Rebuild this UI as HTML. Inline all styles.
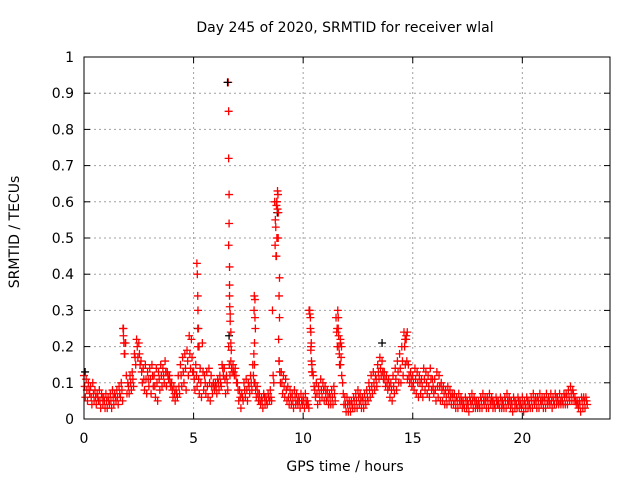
<!DOCTYPE html>
<html><head><meta charset="utf-8"><style>
body{margin:0;background:#fff;}
svg{display:block;font-family:"DejaVu Sans","Liberation Sans",sans-serif;}
</style></head><body>
<svg id="chart" width="640" height="480">
<text x="345" y="32" font-size="14" text-anchor="middle">Day 245 of 2020, SRMTID for receiver wlal</text>
<text x="345" y="471" font-size="14" text-anchor="middle">GPS time / hours</text>
<text transform="translate(19,232) rotate(-90)" font-size="14" text-anchor="middle">SRMTID / TECUs</text>
<g id="grid"></g><g id="ticks"></g><g id="marks"></g>
<rect x="84" y="57" width="526" height="362" fill="none" stroke="#000" stroke-width="1"/>
</svg>
<script>
const xTicks=[0,5,10,15,20];
const yTicks=[0,0.1,0.2,0.3,0.4,0.5,0.6,0.7,0.8,0.9,1];
const yTickLabels=["0","0.1","0.2","0.3","0.4","0.5","0.6","0.7","0.8","0.9","1"];
const baseStep=0.1;
const valsHi=[
.12,.11,.10,.09,.10,.08,.07,.08,.07,.06,
.07,.06,.07,.08,.07,.08,.09,.10,.25,.21,
.10,.12,.13,.18,.22,.21,.16,.14,.15,.13,
.14,.15,.12,.14,.13,.15,.14,.16,.13,.12,
.10,.09,.08,.12,.15,.17,.18,.19,.23,.22,
.13,.15,.20,.14,.21,.12,.13,.14,.12,.10,
.10,.11,.12,.15,.14,.12,.20,.16,.15,.14,
.10,.08,.07,.10,.11,.10,.12,.15,.10,.09,
.07,.06,.07,.06,.07,.08,.30,.60,.60,.16,
.13,.12,.11,.09,.08,.07,.08,.07,.06,.07,
.06,.07,.05,.30,.15,.09,.10,.09,.11,.10,
.09,.08,.07,.08,.09,.28,.25,.22,.10,.06,
.06,.05,.05,.06,.07,.08,.07,.06,.07,.08,
.10,.12,.13,.12,.15,.17,.16,.13,.12,.11,
.10,.12,.14,.16,.18,.20,.24,.22,.15,.13,
.12,.14,.13,.12,.11,.14,.13,.12,.14,.11,
.11,.13,.12,.10,.09,.08,.09,.08,.07,.07,
.06,.07,.06,.05,.06,.05,.06,.07,.06,.05,
.05,.06,.07,.06,.06,.07,.06,.05,.06,.05,
.06,.05,.06,.07,.06,.05,.06,.05,.06,.05,
.06,.05,.06,.05,.06,.07,.06,.06,.07,.06,
.06,.07,.06,.07,.06,.07,.06,.07,.06,.07,
.07,.08,.09,.08,.06,.05,.05,.06,.06,.06];
const valsMid=[
.09,.08,.08,.06,.07,.06,.06,.05,.06,.05,
.05,.05,.05,.06,.06,.06,.07,.08,.21,.12,
.09,.10,.11,.17,.20,.18,.13,.11,.11,.11,
.11,.12,.09,.10,.11,.12,.12,.13,.12,.10,
.08,.07,.07,.09,.12,.13,.14,.16,.18,.17,
.11,.12,.11,.10,.13,.10,.09,.10,.09,.09,
.09,.10,.10,.14,.11,.10,.15,.14,.13,.12,
.08,.06,.06,.08,.08,.09,.10,.12,.08,.07,
.05,.05,.06,.05,.06,.06,.12,.55,.58,.13,
.10,.09,.08,.06,.06,.05,.06,.05,.05,.05,
.05,.05,.04,.25,.13,.08,.07,.07,.08,.08,
.07,.06,.06,.06,.07,.24,.20,.17,.07,.04,
.04,.04,.04,.05,.05,.06,.05,.05,.05,.06,
.08,.09,.10,.11,.13,.14,.13,.11,.10,.09,
.08,.09,.11,.13,.14,.16,.20,.16,.12,.11,
.10,.11,.10,.10,.09,.11,.10,.09,.11,.09,
.08,.09,.09,.08,.07,.06,.07,.06,.06,.05,
.05,.05,.05,.04,.05,.04,.05,.05,.05,.04,
.04,.05,.05,.05,.05,.05,.05,.04,.05,.04,
.05,.04,.05,.05,.05,.04,.05,.04,.05,.04,
.04,.04,.05,.04,.05,.05,.05,.05,.05,.05,
.05,.05,.05,.05,.05,.06,.05,.05,.05,.06,
.06,.06,.07,.07,.05,.04,.04,.05,.05,.05];
const valsLo=[
.06,.05,.07,.04,.05,.04,.05,.03,.04,.03,
.03,.04,.03,.04,.05,.04,.06,.05,.18,.07,
.07,.08,.09,.15,.17,.15,.10,.08,.07,.09,
.07,.09,.06,.05,.08,.09,.10,.09,.11,.09,
.06,.05,.06,.07,.09,.10,.08,.12,.14,.13,
.08,.09,.07,.06,.08,.07,.06,.05,.07,.08,
.07,.08,.09,.12,.07,.08,.12,.13,.12,.10,
.05,.03,.05,.06,.05,.07,.08,.10,.06,.05,
.04,.03,.04,.04,.05,.05,.10,.45,.50,.10,
.07,.06,.05,.04,.04,.03,.04,.04,.03,.04,
.03,.04,.03,.20,.12,.06,.04,.05,.06,.05,
.05,.04,.04,.04,.05,.20,.15,.12,.04,.02,
.02,.02,.03,.03,.03,.04,.03,.03,.04,.05,
.06,.07,.08,.09,.11,.12,.11,.09,.08,.06,
.05,.07,.08,.10,.10,.12,.15,.11,.10,.09,
.08,.07,.06,.07,.06,.08,.07,.06,.08,.07,
.05,.06,.05,.05,.04,.04,.05,.04,.04,.03,
.03,.04,.03,.03,.03,.02,.04,.03,.03,.03,
.03,.03,.04,.03,.03,.04,.03,.03,.04,.03,
.03,.03,.03,.04,.03,.02,.03,.03,.03,.03,
.02,.03,.03,.03,.03,.04,.03,.03,.04,.03,
.03,.04,.04,.03,.04,.04,.04,.04,.04,.04,
.04,.05,.05,.05,.04,.03,.02,.03,.03,.04];
const spikeT=[1.78,1.8,1.82,1.84,
5.15,5.17,5.19,5.2,5.22,5.25,
6.58,6.6,6.6,6.62,6.62,6.6,6.64,6.64,6.64,6.65,6.67,6.67,6.7,6.7,6.72,
7.77,7.8,7.76,7.8,7.82,7.78,7.75,7.78,
8.83,8.85,8.8,8.78,8.87,8.75,8.8,8.72,8.78,8.92,8.9,8.92,8.88,8.9,
10.27,10.3,10.33,10.35,10.37,10.35,10.38,10.4,
11.58,11.6,11.55,11.62,11.7,11.75,11.65,11.7,
14.75,14.7,14.65];
const spikeV=[.25,.23,.21,.18,
.43,.40,.34,.30,.25,.20,
.93,.85,.72,.62,.54,.48,.42,.37,.34,.31,.29,.27,.24,.21,.19,
.34,.33,.30,.28,.25,.21,.18,.15,
.63,.62,.60,.59,.57,.53,.50,.48,.45,.39,.34,.28,.22,.16,
.30,.29,.28,.24,.21,.19,.16,.13,
.30,.28,.25,.23,.21,.20,.18,.15,
.24,.23,.22];
const blackT=[0.05,5.2,6.62,8.82,13.6];
const blackV=[0.13,0.25,0.23,0.57,0.21];

const X0=84,X1=610,Y0=419,Y1=57,XMAX=24;
const xs=v=>X0+(v/XMAX)*(X1-X0);
const ys=v=>Y0-v*(Y0-Y1);
const NS="http://www.w3.org/2000/svg";
function mk(tag,attrs,parent){const e=document.createElementNS(NS,tag);for(const k in attrs)e.setAttribute(k,attrs[k]);parent.appendChild(e);return e;}
const grid=document.getElementById('grid'),ticks=document.getElementById('ticks'),marks=document.getElementById('marks');
yTicks.forEach((v,i)=>{
  const y=ys(v);
  if(i>0&&i<yTicks.length-1){const g=mk('line',{x1:X0,x2:X1,y1:y,y2:y,stroke:'#a0a0a0','stroke-dasharray':'2,3'},grid);
  
  }
  mk('line',{x1:X0,x2:X0+6,y1:y,y2:y,stroke:'#000'},ticks);
  mk('line',{x1:X1,x2:X1-6,y1:y,y2:y,stroke:'#000'},ticks);
  const t=mk('text',{x:X0-10,y:y+5,'font-size':14,'text-anchor':'end'},ticks);t.textContent=yTickLabels[i];
  
  
});
xTicks.forEach(v=>{
  const x=xs(v);
  if(v>0){const g=mk('line',{x1:x,x2:x,y1:Y0,y2:Y1,stroke:'#a0a0a0','stroke-dasharray':'2,3'},grid);
  
  }
  mk('line',{x1:x,x2:x,y1:Y0,y2:Y0-6,stroke:'#000'},ticks);
  mk('line',{x1:x,x2:x,y1:Y1,y2:Y1+6,stroke:'#000'},ticks);
  const t=mk('text',{x:x,y:Y0+24,'font-size':14,'text-anchor':'middle'},ticks);t.textContent=String(v);
  
  
});
function plus(t,v,color,name){
  const x=xs(t),y=ys(v);
  const p=mk('path',{d:`M${x-4},${y}H${x+4}M${x},${y-4}V${y+4}`,stroke:color,'stroke-width':1.3,fill:'none'},marks);
  
  
}
blackT.forEach((t,i)=>plus(t,blackV[i],'#000','black-point'));
valsHi.forEach((v,i)=>plus(i*baseStep,v,'#ff0000','srmtid-point'));
valsMid.forEach((v,i)=>plus(i*baseStep+0.03,v,'#ff0000','srmtid-point'));
valsLo.forEach((v,i)=>plus(i*baseStep+0.06,v,'#ff0000','srmtid-point'));
spikeT.forEach((t,i)=>plus(t,spikeV[i],'#ff0000','srmtid-spike-point'));
plus(6.55,0.93,'#000','black-point');
</script>
</body></html>
